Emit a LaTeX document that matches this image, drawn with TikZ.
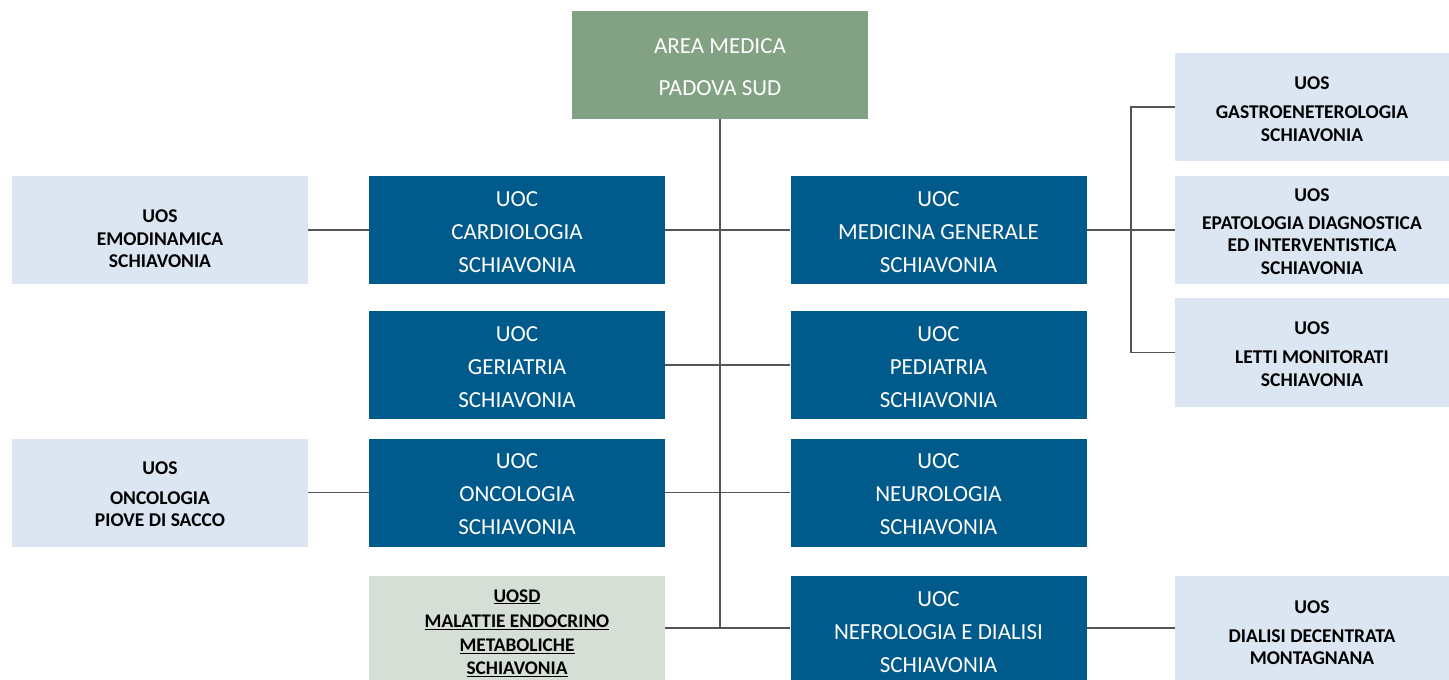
\documentclass[tikz,border=0pt]{standalone}
\usepackage{fontspec}
\setmainfont{Carlito}
\definecolor{uocblue}{HTML}{005A8B}
\definecolor{uoslight}{HTML}{DCE6F2}
\definecolor{areagreen}{HTML}{82A283}
\definecolor{uosdgrey}{HTML}{D6DFD6}
\definecolor{linkgrey}{HTML}{555555}
\begin{document}
\begin{tikzpicture}[x=1pt,y=-1pt,
  box/.style={rectangle,inner sep=0pt,minimum width=296pt,minimum height=108pt},
  txt/.style={inner sep=0pt,align=center},
  areabox/.style={box,fill=areagreen},
  uocbox/.style={box,fill=uocblue},
  uosbox/.style={box,fill=uoslight},
  uosdbox/.style={box,fill=uosdgrey},
  areatext/.style={txt,text=white,font=\fontsize{23}{42}\selectfont},
  uoctext/.style={txt,text=white,font=\fontsize{23}{33}\selectfont},
  uostext/.style={txt,text=black,font=\bfseries\fontsize{19.5}{22.5}\selectfont},
  uosdtext/.style={txt,text=black,font=\bfseries\fontsize{19.3}{23.3}\selectfont},
  link/.style={draw=linkgrey,line width=1.6pt}]
\useasboundingbox (0,0) rectangle (1449,680);

% head of the area
\node[areabox] (area) at (720,65) {};
\node[areatext] (area-t) at (720,67) {AREA MEDICA\\PADOVA SUD};

% complex operating units, left column
\node[uocbox] (card) at (517,230) {};
\node[uoctext] (card-t) at (517,232) {UOC\\CARDIOLOGIA\\SCHIAVONIA};
\node[uocbox] (geri) at (517,365) {};
\node[uoctext] (geri-t) at (517,367) {UOC\\GERIATRIA\\SCHIAVONIA};
\node[uocbox] (onco) at (517,492.5) {};
\node[uoctext] (onco-t) at (517,494.5) {UOC\\ONCOLOGIA\\SCHIAVONIA};
\node[uosdbox,minimum height=104pt] (uosd) at (517,628) {};
\node[uosdtext] (uosd-t) at (517,633)
  {\underline{UOSD}\\[2.5pt]\underline{MALATTIE ENDOCRINO}\\\underline{METABOLICHE}\\\underline{SCHIAVONIA}};

% complex operating units, right column
\node[uocbox] (medi) at (938.5,230) {};
\node[uoctext] (medi-t) at (938.5,232) {UOC\\MEDICINA GENERALE\\SCHIAVONIA};
\node[uocbox] (pedi) at (938.5,365) {};
\node[uoctext] (pedi-t) at (938.5,367) {UOC\\PEDIATRIA\\SCHIAVONIA};
\node[uocbox] (neur) at (938.5,492.5) {};
\node[uoctext] (neur-t) at (938.5,494.5) {UOC\\NEUROLOGIA\\SCHIAVONIA};
\node[uocbox,minimum height=104pt] (nefr) at (938.5,628) {};
\node[uoctext] (nefr-t) at (938.5,632) {UOC\\NEFROLOGIA E DIALISI\\SCHIAVONIA};

% simple operating units, outer left
\node[uosbox] (emod) at (160,230) {};
\node[uostext] (emod-t) at (160,239) {UOS\\EMODINAMICA\\SCHIAVONIA};
\node[uosbox] (onpi) at (160,492.5) {};
\node[uostext] (onpi-t) at (160,494.5) {UOS\\[7pt]ONCOLOGIA\\PIOVE DI SACCO};

% simple operating units, outer right
\node[uosbox,minimum width=274pt] (gast) at (1312,107) {};
\node[uostext] (gast-t) at (1312,109) {UOS\\[6.5pt]GASTROENETEROLOGIA\\SCHIAVONIA};
\node[uosbox,minimum width=274pt] (epat) at (1312,230) {};
\node[uostext] (epat-t) at (1312,231.5)
  {UOS\\[5.5pt]EPATOLOGIA DIAGNOSTICA\\ED INTERVENTISTICA\\SCHIAVONIA};
\node[uosbox,minimum width=274pt,minimum height=109pt] (lett) at (1312,352.5) {};
\node[uostext] (lett-t) at (1312,354) {UOS\\[7pt]LETTI MONITORATI\\SCHIAVONIA};
\node[uosbox,minimum width=274pt,minimum height=104pt] (dial) at (1312,628) {};
\node[uostext] (dial-t) at (1312,632.5) {UOS\\[6.5pt]DIALISI DECENTRATA\\MONTAGNANA};

% trunk
\coordinate (trunkend) at (area.south |- uosd.east);
\draw[link] (area.south) -- (trunkend);

% row connectors across the trunk
\draw[link] (card.east) -- (medi.west);
\draw[link] (geri.east) -- (pedi.west);
\draw[link] (onco.east) -- (neur.west);
\draw[link] (uosd.east) -- (nefr.west);

% outer connectors
\draw[link] (emod.east) -- (card.west);
\draw[link] (onpi.east) -- (onco.west);
\draw[link] (nefr.east) -- (dial.west);

% bus for the units under internal medicine
\coordinate (bus) at (1131,230);
\draw[link] (medi.east) -- (epat.west);
\draw[link] (gast.west) -- (gast.west -| bus) -- (bus |- lett.west) -- (lett.west);
\end{tikzpicture}
\end{document}
